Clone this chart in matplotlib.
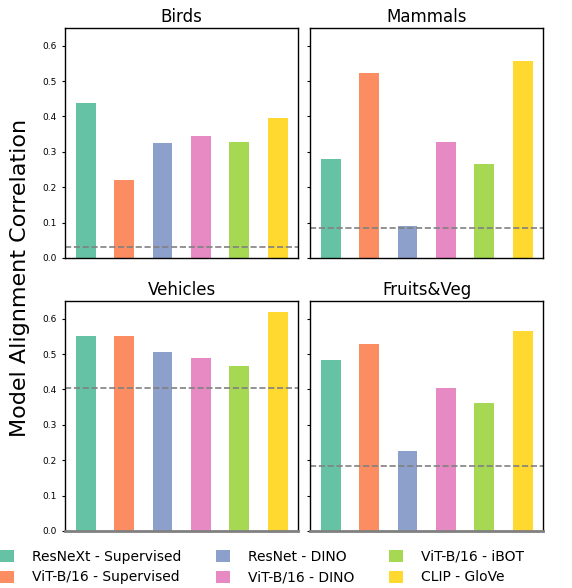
import matplotlib
matplotlib.use("Agg")
import matplotlib.pyplot as plt
from matplotlib.patches import Patch

models = ["ResNeXt - Supervised", "ViT-B/16 - Supervised", "ResNet - DINO",
          "ViT-B/16 - DINO", "ViT-B/16 - iBOT", "CLIP - GloVe"]
colors = ["#66c2a5", "#fc8d62", "#8da0cb", "#e78ac3", "#a6d854", "#ffd92f"]
categories = ["Birds", "Mammals", "Vehicles", "Fruits&Veg"]
birds = [0.439, 0.220, 0.324, 0.344, 0.327, 0.397]
mammals = [0.279, 0.524, 0.090, 0.327, 0.265, 0.558]
vehicles = [0.552, 0.552, 0.506, 0.490, 0.467, 0.619]
fruits = [0.484, 0.529, 0.227, 0.405, 0.363, 0.566]
baselines = [0.031, 0.085, 0.405, 0.185]
values = [birds, mammals, vehicles, fruits]

fig = plt.figure(figsize=(5.72, 5.88), dpi=100)
W, H = 572, 588
boxes = [(65, 28), (310, 28), (65, 301), (310, 301)]
aw, ah = 233, 230
x = list(range(len(models)))
axes = []
for i, (l, t) in enumerate(boxes):
    ax = fig.add_axes([l / W, 1 - (t + ah) / H, aw / W, ah / H])
    ax.bar(x, values[i], width=0.52, color=colors)
    ax.axhline(baselines[i], color="gray", linestyle="--", linewidth=1.2)
    ax.set_ylim(0, 0.65)
    ax.set_xlim(-0.54, 5.53)
    ax.set_xticks([])
    ax.set_yticks([0.0, 0.1, 0.2, 0.3, 0.4, 0.5, 0.6])
    ax.tick_params(axis="y", labelsize=6.5, length=2.5)
    if i % 2 == 1:
        ax.tick_params(axis="y", labelleft=False)
    ax.set_title(categories[i], fontsize=12, pad=4)
    for s in ax.spines.values():
        s.set_linewidth(1.0)
    if i >= 2:
        ax.spines["bottom"].set_color("gray")
        ax.spines["bottom"].set_linewidth(2)
    axes.append(ax)

fig.text(20 / W, 1 - 278 / H, "Model Alignment Correlation", rotation=90,
         fontsize=16, ha="center", va="center")

handles = [Patch(facecolor=c, edgecolor="none") for c in colors]
fig.legend(handles, models, ncol=3,
           loc="center left", bbox_to_anchor=(0.0, 1 - 567 / H), frameon=False,
           fontsize=10, handlelength=1.0, handleheight=1.0, columnspacing=2.5,
           handletextpad=1.3, labelspacing=0.5, borderpad=0, borderaxespad=0)

fig.savefig("out.png", dpi=100)
